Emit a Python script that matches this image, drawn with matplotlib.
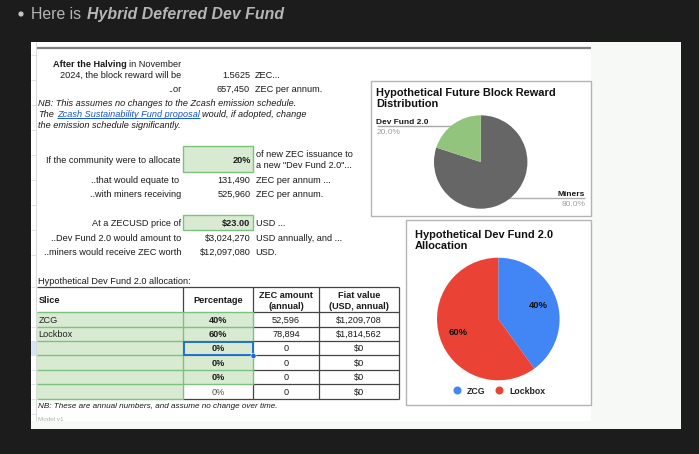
#!/usr/bin/env python3
"""Screenshot of a spreadsheet with the dev fund table and two pie charts."""

import matplotlib

matplotlib.use("Agg")
import matplotlib.pyplot as plt
from matplotlib.patches import Circle, Rectangle

W, H = 699, 454

reward_labels = ["Miners", "Dev Fund 2.0"]
reward_values = [80, 20]
reward_colors = ["#666666", "#93c47d"]

alloc_labels = ["ZCG", "Lockbox"]
alloc_values = [40, 60]
alloc_colors = ["#4285f4", "#ea4335"]

slices = ["ZCG", "Lockbox", "", "", "", ""]
percentages = ["40%", "60%", "0%", "0%", "0%", "0%"]
zec_amounts = ["52,596", "78,894", "0", "0", "0", "0"]
fiat_values = ["$1,209,708", "$1,814,562", "$0", "$0", "$0", "$0"]

col_x = [37, 183, 253, 319, 399]
row_y = [287, 312, 327, 341, 355, 370, 384, 399]

GREEN_FILL = "#d9ead3"
GREEN_LINE = "#7cc27f"
DARK = "#1c1c1c"
PANEL = "#f7f9f7"
SIZE = 6.55

plt.rcParams["font.family"] = ["Liberation Sans", "DejaVu Sans"]

fig = plt.figure(figsize=(W / 100, H / 100), dpi=100, facecolor=DARK)
ax = fig.add_axes([0, 0, 1, 1])
ax.set_xlim(0, W)
ax.set_ylim(H, 0)
ax.axis("off")


def box(x0, y0, x1, y1, fc="none", ec="none", lw=0.0, z=1):
    ax.add_patch(Rectangle((x0, y0), x1 - x0, y1 - y0, fc=fc, ec=ec, lw=lw, zorder=z))


def line(x0, y0, x1, y1, color="#444444", lw=0.8, z=3):
    ax.plot([x0, x1], [y0, y1], color=color, lw=lw, zorder=z, solid_capstyle="butt")


def label(x, y, s, ha="left", size=SIZE, weight="normal", style="normal", color="#1a1a1a", z=5):
    # y is the middle of the capitals; a whole-pixel baseline keeps rows level
    baseline = round(y + 0.36 * size * 100 / 72)
    return ax.text(x, baseline, s, ha=ha, va="baseline", fontsize=size, fontweight=weight,
                   fontstyle=style, color=color, zorder=z)


def pie_axes(cx, cy, r, values, colors):
    pie = fig.add_axes([(cx - r) / W, 1 - (cy + r) / H, 2 * r / W, 2 * r / H])
    pie.pie(values, colors=colors, startangle=90, counterclock=False, radius=1)
    pie.set_xlim(-1, 1)
    pie.set_ylim(-1, 1)
    pie.set_aspect("auto")
    pie.patch.set_alpha(0)
    return pie


# bullet line on the dark page
ax.add_patch(Circle((21, 14), 2.6, fc="#c4c4c4", ec="none"))
label(31, 13.5, "Here is", size=11.4, color="#b5b5b5")
label(87, 13.5, "Hybrid Deferred Dev Fund", size=11.4, weight="bold", style="italic", color="#b5b5b5")

# screenshot panels
box(31, 42, 681, 429, fc=PANEL, z=0)
box(31, 42, 591, 421, fc="white", z=0.5)
line(36, 47.5, 591, 47.5, color="#808080", lw=1.6)
line(36, 42, 36, 421, color="#d8d8d8", lw=0.7)
for y in [55, 80, 105, 130, 155, 180, 205, 230, 255, 287, 327, 341, 355, 370, 384, 399, 414]:
    line(31, y, 36, y, color="#dddddd", lw=0.6)
box(31, 341, 36, 355, fc="#d6e4f7", z=1)

# halving block
label(53, 63.5, "After the Halving", weight="bold")
label(129, 63.5, "in November")
label(181, 74.5, "2024, the block reward will be", ha="right")
label(250, 74.5, "1.5625", ha="right")
label(255, 74.5, "ZEC...")
label(181, 89, "..or", ha="right")
label(250, 89, "657,450", ha="right")
label(255, 89, "ZEC per annum.")
label(38.5, 103, "NB: This assumes no changes to the Zcash emission schedule.", style="italic")
label(38.5, 114, "The", style="italic")
link = label(57, 114, "Zcash Sustainability Fund proposal", style="italic", color="#1155cc")
line(57, 118, 200, 118, color="#1155cc", lw=0.7)
label(202, 114, "would, if adopted, change", style="italic")
label(38.5, 125, "the emission schedule significantly.", style="italic")

# input block
box(183, 146, 253, 171.5, fc=GREEN_FILL, ec=GREEN_LINE, lw=1.0, z=2)
label(181, 159.5, "If the community were to allocate", ha="right")
label(251, 159.5, "20%", ha="right", weight="bold")
label(255.5, 154, "of new ZEC issuance to")
label(255.5, 165, 'a new "Dev Fund 2.0"...')
label(179, 179.5, "..that would equate to", ha="right")
label(250.5, 179.5, "131,490", ha="right")
label(255.5, 179.5, "ZEC per annum ...")
label(181, 194, "..with miners receiving", ha="right")
label(250.5, 194, "525,960", ha="right")
label(255.5, 194, "ZEC per annum.")

box(183, 215, 253, 229.5, fc=GREEN_FILL, ec=GREEN_LINE, lw=1.0, z=2)
label(181, 223, "At a ZECUSD price of", ha="right")
label(250.5, 223, "$23.00", ha="right", weight="bold")
label(255.5, 223, "USD ...")
label(181, 237.5, "..Dev Fund 2.0 would amount to", ha="right")
label(250.5, 237.5, "$3,024,270", ha="right")
label(255.5, 237.5, "USD annually, and ...")
label(181, 252, "..miners would receive ZEC worth", ha="right")
label(250.5, 252, "$12,097,080", ha="right")
label(255.5, 252, "USD.")

# allocation table
label(38.5, 281, "Hypothetical Dev Fund 2.0 allocation:")
box(col_x[0], row_y[1], col_x[1], row_y[-1], fc=GREEN_FILL, z=1)
box(col_x[1], row_y[1], col_x[2], row_y[-2], fc=GREEN_FILL, z=1)

# header and value columns are dark, the input columns have green rules
line(col_x[0], row_y[0], col_x[-1], row_y[0], lw=0.9)
for x in col_x[1:3]:
    line(x, row_y[0], x, row_y[1], lw=0.9)
for x in col_x[3:]:
    line(x, row_y[0], x, row_y[-1], lw=0.9)
for y in row_y[1:]:
    line(col_x[2], y, col_x[-1], y, lw=0.9)
line(col_x[1], row_y[-1], col_x[2], row_y[-1], lw=0.9)
line(col_x[2], row_y[-2], col_x[2], row_y[-1], lw=0.9)

for y in row_y[1:-1]:
    line(col_x[0], y, col_x[2], y, color=GREEN_LINE, lw=1.0, z=3.5)
line(col_x[0], row_y[-1], col_x[1], row_y[-1], color=GREEN_LINE, lw=1.0, z=3.5)
line(col_x[1], row_y[1], col_x[1], row_y[-1], color=GREEN_LINE, lw=1.0, z=3.5)
line(col_x[2], row_y[1], col_x[2], row_y[-2], color=GREEN_LINE, lw=1.0, z=3.5)

label(38.5, 300, "Slice", weight="bold")
label(218, 300, "Percentage", ha="center", weight="bold")
label(286, 294.5, "ZEC amount", ha="center", weight="bold")
label(286, 305.5, "(annual)", ha="center", weight="bold")
label(359, 294.5, "Fiat value", ha="center", weight="bold")
label(359, 305.5, "(USD, annual)", ha="center", weight="bold")

for i, (name, pct, zec, fiat) in enumerate(zip(slices, percentages, zec_amounts, fiat_values)):
    y = (row_y[i + 1] + row_y[i + 2]) / 2
    label(38.5, y, name, color="#222222")
    label(218, y, pct, ha="center", weight="normal" if i == 5 else "bold",
          color="#555555" if i == 5 else "#1a1a1a")
    label(286, y, zec, ha="center")
    label(359, y, fiat, ha="center")

# selected cell
box(184, 341.5, 253, 355, ec="#1a66d6", lw=1.3, z=4)
ax.add_patch(Circle((253.5, 356), 2.6, fc="#1a66d6", ec="white", lw=0.4, zorder=6))

label(38.5, 405.5, "NB: These are annual numbers, and assume no change over time.", size=5.9, style="italic")
label(38.5, 419, "Model v1", size=4.5, color="#b0b0b0")

# block reward chart
box(370.5, 80.5, 591, 216, fc="white", ec="#b4b4b4", lw=1.0, z=2)
label(376.5, 92, "Hypothetical Future Block Reward", size=7.93, weight="bold", color="#111111")
label(376.5, 103, "Distribution", size=7.93, weight="bold", color="#111111")
pie_axes(480.7, 162, 46.7, reward_values, reward_colors)
label(376.5, 120.5, reward_labels[1], size=6, weight="bold")
line(376.5, 126, 456, 126, color="#a8a8a8", lw=1.0)
label(376.5, 131, f"{reward_values[1]:.1f}%", size=6, color="#a0a0a0")
label(585, 192.5, reward_labels[0], ha="right", size=6, weight="bold")
line(507, 197.5, 585, 197.5, color="#b0b0b0", lw=1.0)
label(585, 203, f"{reward_values[0]:.1f}%", ha="right", size=6, color="#a0a0a0")

# allocation chart
box(405.5, 220, 591, 405, fc="white", ec="#b4b4b4", lw=1.0, z=2)
label(415, 234, "Hypothetical Dev Fund 2.0", size=7.93, weight="bold", color="#111111")
label(415, 245, "Allocation", size=7.93, weight="bold", color="#111111")
alloc = pie_axes(498.3, 319, 61.3, alloc_values, alloc_colors)
alloc.text(0.66, 0.22, f"{alloc_values[0]}%", ha="center", va="center", fontsize=6.8,
           fontweight="bold", color="#111111")
alloc.text(-0.66, -0.22, f"{alloc_values[1]}%", ha="center", va="center", fontsize=6.8,
           fontweight="bold", color="#111111")

ax.add_patch(Circle((457.5, 390.5), 4, fc=alloc_colors[0], ec="none", zorder=5))
label(467, 390.5, alloc_labels[0], size=6.3, weight="bold", color="#222222")
ax.add_patch(Circle((499.5, 390.5), 4, fc=alloc_colors[1], ec="none", zorder=5))
label(509, 390.5, alloc_labels[1], size=6.3, weight="bold", color="#222222")

fig.savefig("out.png", dpi=100, facecolor=fig.get_facecolor())
